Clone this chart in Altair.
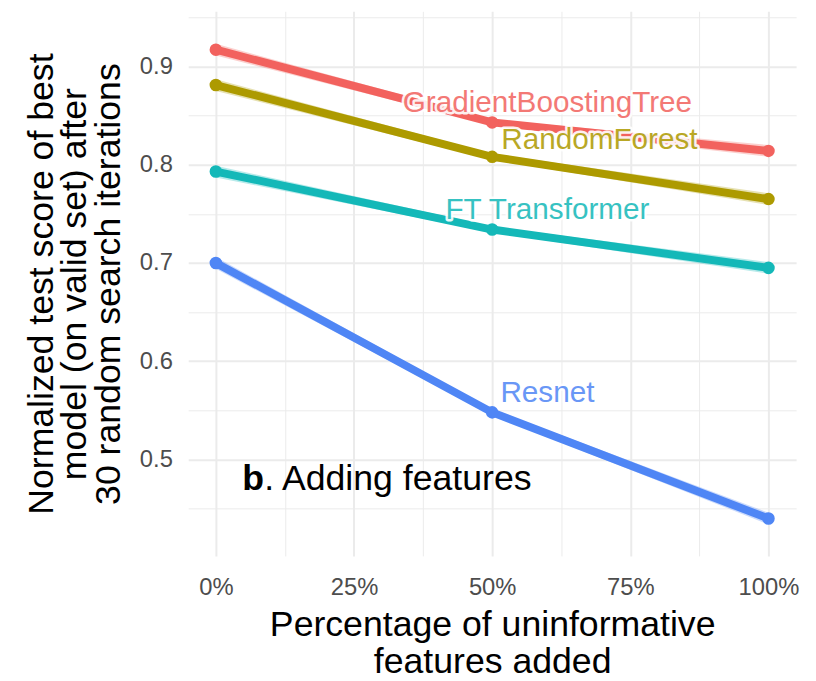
import altair as alt
import pandas as pd

# ---- data ----
models = ["GradientBoostingTree", "RandomForest", "FT Transformer", "Resnet"]
colors = ["#F2625E", "#AD9A00", "#14B8B8", "#4F86F5"]
pct = [0.0, 0.5, 1.0]
gbt = [0.917, 0.843, 0.814]
rf = [0.881, 0.808, 0.765]
ft = [0.793, 0.734, 0.695]
resnet = [0.700, 0.548, 0.440]
band_half = [0.006, 0.003, 0.006]

label_x = [0.60, 0.694, 0.60, 0.60]
label_y = [0.863, 0.825, 0.754, 0.568]

ann_x = [0.048]
ann_y = [0.469]

series = {"GradientBoostingTree": gbt, "RandomForest": rf, "FT Transformer": ft, "Resnet": resnet}
rows = []
for m in models:
    for p, s, b in zip(pct, series[m], band_half):
        rows.append({"model": m, "pct": p, "score": s, "lo": s - b, "hi": s + b})
df = pd.DataFrame(rows)
lab = pd.DataFrame({"model": models, "lx": label_x, "ly": label_y})
ann = pd.DataFrame({"ax": ann_x, "ay": ann_y})

FONT = "Liberation Sans"
major_x = "abs(datum.value*4 - round(datum.value*4)) < 0.001"
major_y = "abs(datum.value*10 - round(datum.value*10)) < 0.001"

xscale = alt.Scale(domain=[-0.05, 1.05], nice=False, zero=False)
yscale = alt.Scale(domain=[0.402, 0.956], nice=False, zero=False)
cscale = alt.Scale(domain=models, range=colors)

xaxis = alt.Axis(
    values=[0, 0.125, 0.25, 0.375, 0.5, 0.625, 0.75, 0.875, 1.0],
    labelExpr=f"{major_x} ? format(datum.value, '.0%') : ''",
    grid=True, gridColor="#EBEBEB",
    gridWidth={"condition": {"test": major_x, "value": 2}, "value": 1},
    domain=False, ticks=False,
    labelFont=FONT, labelFontSize=24, labelColor="#4D4D4D", labelPadding=20,
    labelFlush=False,
    title=["Percentage of uninformative", "features added"],
    titleFont=FONT, titleFontSize=36, titleFontWeight="normal", titleColor="#000000",
    titleLineHeight=38, titlePadding=8,
)
yaxis = alt.Axis(
    values=[0.45, 0.5, 0.55, 0.6, 0.65, 0.7, 0.75, 0.8, 0.85, 0.9, 0.95],
    labelExpr=f"{major_y} ? format(datum.value, '.1f') : ''",
    grid=True, gridColor="#EBEBEB",
    gridWidth={"condition": {"test": major_y, "value": 2}, "value": 1},
    domain=False, ticks=False,
    labelFont=FONT, labelFontSize=24, labelColor="#4D4D4D", labelPadding=16,
    labelFlush=False,
    title=["Normalized test score of best", "model (on valid set) after", "30 random search iterations"],
    titleFont=FONT, titleFontSize=36, titleFontWeight="normal", titleColor="#000000",
    titleLineHeight=34, titlePadding=12,
)


def X(field):
    return alt.X(f"{field}:Q", scale=xscale, axis=xaxis)


def Y(field):
    return alt.Y(f"{field}:Q", scale=yscale, axis=yaxis)


color = alt.Color("model:N", scale=cscale, legend=None)

band = alt.Chart(df).mark_area(opacity=0.3).encode(
    x=X("pct"), y=Y("lo"), y2="hi:Q", color=color, detail="model:N"
)
line = alt.Chart(df).mark_line(strokeWidth=8, strokeCap="round", strokeJoin="round").encode(
    x=X("pct"), y=Y("score"), color=color
)
pts = alt.Chart(df).mark_circle(size=160, opacity=1).encode(
    x=X("pct"), y=Y("score"), color=color
)
halo = alt.Chart(lab).mark_text(
    font=FONT, fontSize=30, stroke="white", strokeWidth=5, fill="white",
    strokeJoin="round", opacity=0.9
).encode(x=X("lx"), y=Y("ly"), text="model:N")
labels = alt.Chart(lab).mark_text(font=FONT, fontSize=30, opacity=0.85).encode(
    x=X("lx"), y=Y("ly"), text="model:N", color=color
)
ann_b = alt.Chart(ann).mark_text(
    font=FONT, fontSize=36, fontWeight="bold", align="left", baseline="alphabetic", color="#000000", text="b"
).encode(x=X("ax"), y=Y("ay"))
ann_t = alt.Chart(ann).mark_text(
    font=FONT, fontSize=36, align="left", baseline="alphabetic", color="#000000",
    text=". Adding features", dx=22
).encode(x=X("ax"), y=Y("ay"))

chart = alt.layer(band, line, pts, halo, labels, ann_b, ann_t).properties(
    width=614, height=550,
    autosize=alt.AutoSizeParams(type="none"),
    padding={"left": 182, "top": 0, "right": 12, "bottom": 123},
    background="white",
).configure_view(stroke=None)

chart.save("out.html", embed_options={"renderer": "svg", "actions": False})
